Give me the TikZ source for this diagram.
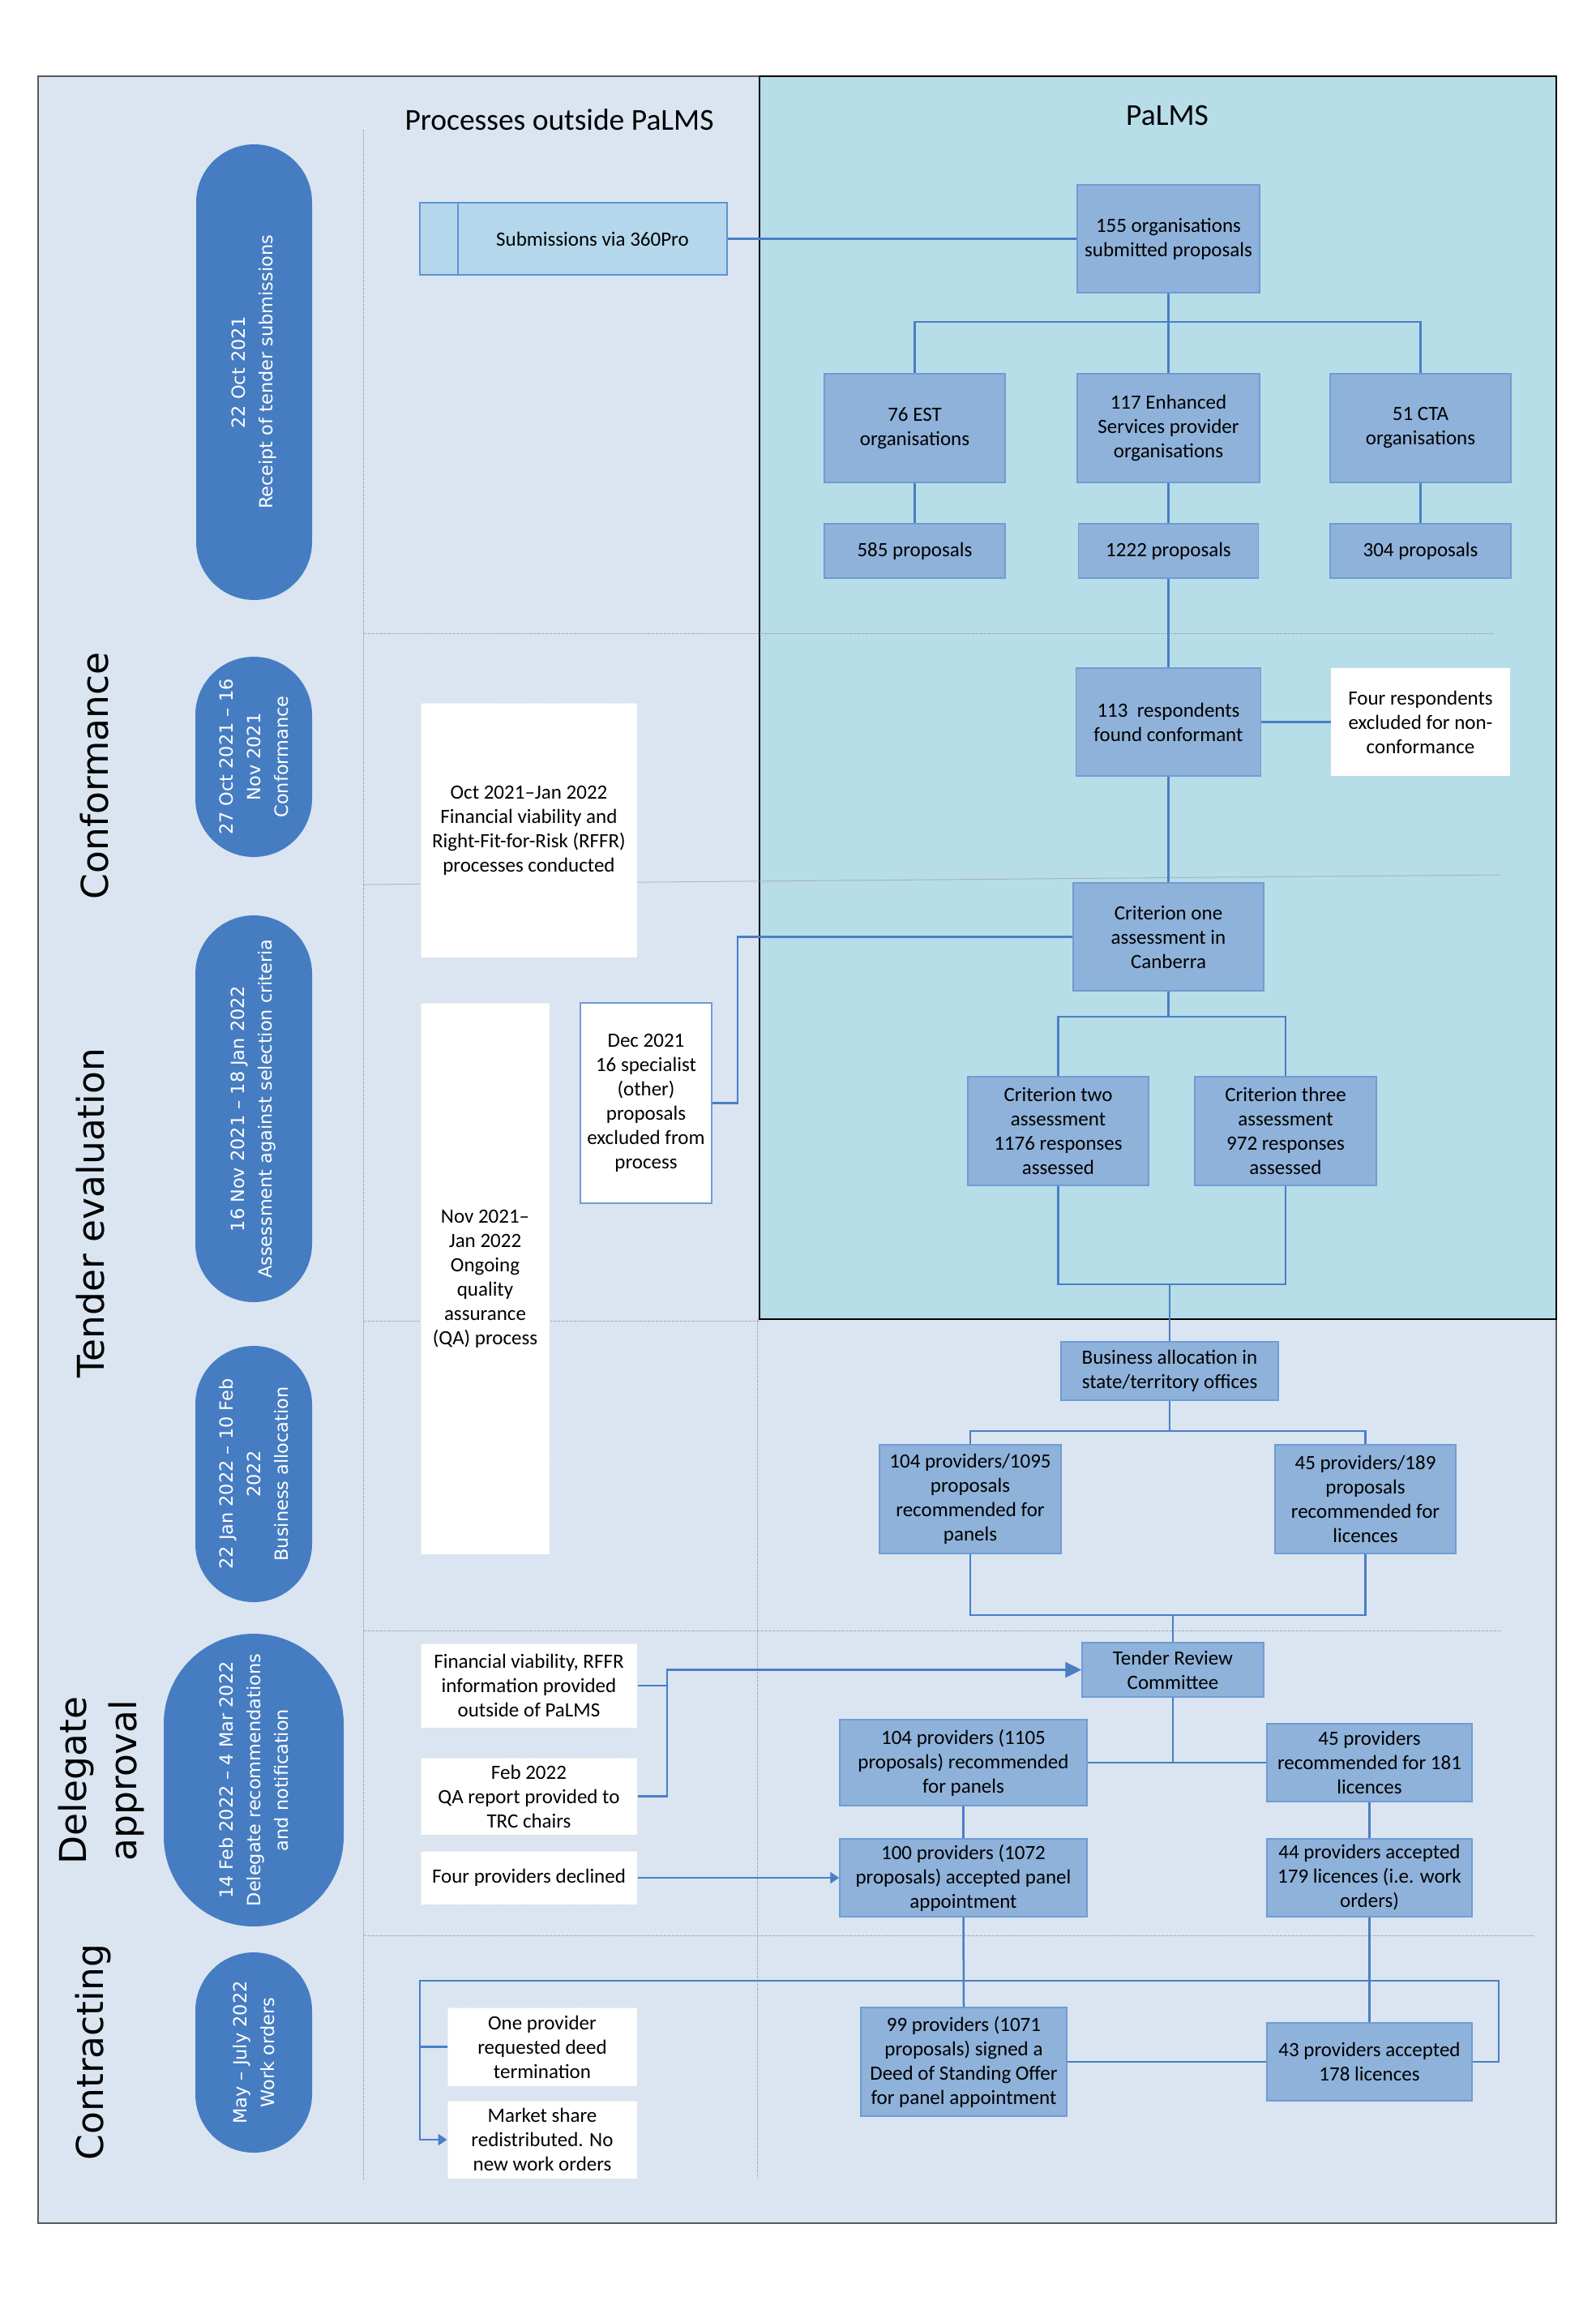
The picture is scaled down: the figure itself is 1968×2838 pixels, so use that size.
\documentclass[tikz,border=0pt]{standalone}
\usepackage{fontspec}
\setmainfont{Carlito}
\newfontfamily\dejavu{DejaVu Sans}
\usetikzlibrary{arrows.meta}
\definecolor{bgout}{HTML}{DAE5F1}
\definecolor{palmsbg}{HTML}{B7DDE8}
\definecolor{boxfill}{HTML}{8EB2DA}
\definecolor{boxdraw}{HTML}{6F9CD3}
\definecolor{linec}{HTML}{4A7EC5}
\definecolor{pillc}{HTML}{467DC2}
\definecolor{subfill}{HTML}{B4D7EB}
\definecolor{subdraw}{HTML}{5E93D3}
\newcommand\boxfnt{\fontsize{25}{30}\selectfont}
\newcommand\pillfnt{\dejavu\fontsize{22.4}{34}\selectfont}
\newcommand\lanefnt{\dejavu\fontsize{45.5}{60}\selectfont}
\newcommand\titlefnt{\fontsize{37.5}{44}\selectfont}
\begin{document}
\begin{tikzpicture}[x=1pt,y=-1pt,
  boxst/.style={draw=boxdraw, fill=boxfill, line width=1.5pt, inner sep=0pt, align=center, font=\boxfnt, text=black},
  whitebox/.style={draw=gray!25, densely dotted, fill=white, line width=1pt, inner sep=0pt, align=center, font=\boxfnt, text=black},
  bluewhite/.style={draw=boxdraw, fill=white, line width=1.2pt, inner sep=0pt, align=center, font=\boxfnt, text=black},
  subst/.style={draw=subdraw, fill=subfill, line width=1.5pt, inner sep=0pt, align=center, font=\boxfnt, text=black},
  pill/.style={fill=pillc, inner sep=0pt, align=center, font=\pillfnt, text=white, rotate=90},
  lane/.style={inner sep=0pt, align=center, font=\lanefnt, text=black, rotate=90},
  conn/.style={draw=linec, line width=2.5pt},
  gridl/.style={draw=gray!75, line width=1pt, dash pattern=on 1.5pt off 1pt},
  bigtip/.style={-{Triangle[length=20pt,width=19pt]}},
  smalltip/.style={-{Triangle[length=11pt,width=14pt]}}
]
\useasboundingbox (0,0) rectangle (1968,2838);
\fill[white] (0,0) rectangle (1968,2838);
% frames
\draw[fill=bgout, draw=gray!70!black, line width=1.5pt] (47,94) rectangle (1920,2742);
\draw[fill=palmsbg, draw=black, line width=2.5pt] (937,94) rectangle (1920,1627);
% grid lines
\draw[gridl] (448,160) -- (448,2688);
\draw[gridl] (934,1627) -- (934,2686);
\draw[gridl] (449,781) -- (1843,781);
\draw[gridl] (449,1091) -- (1851,1079);
\draw[gridl] (449,1629) -- (937,1629);
\draw[gridl] (449,2011) -- (1851,2011);
\draw[gridl] (449,2387) -- (1894,2387);
% titles
\node[font=\titlefnt, inner sep=0pt] (tout) at (690,148) {Processes outside PaLMS};
\node[font=\titlefnt, inner sep=0pt] (tin) at (1440,142) {PaLMS};
% lane labels
\node[lane] (lconf) at (117,957) {Conformance};
\node[lane] (lten) at (112,1496) {Tender evaluation};
\node[lane, font=\dejavu\fontsize{45.5}{62}\selectfont] (ldel) at (125,2196) {Delegate\\approval};
\node[lane] (lcon) at (115,2531) {Contracting};
% pills
\node[pill, minimum width=562, minimum height=143, rounded corners=71.5pt] (p1) at (313.5,459) {22 Oct 2021\\Receipt of tender submissions};
\node[pill, minimum width=247, minimum height=144, rounded corners=72pt] (p2) at (313,933.5) {27 Oct 2021 – 16\\Nov 2021\\Conformance};
\node[pill, minimum width=477, minimum height=144, rounded corners=72pt] (p3) at (313,1367.5) {16 Nov 2021 – 18 Jan 2022\\Assessment against selection criteria};
\node[pill, minimum width=316, minimum height=144, rounded corners=72pt] (p4) at (313,1818) {22 Jan 2022 – 10 Feb\\2022\\Business allocation};
\node[pill, minimum width=361, minimum height=222, rounded corners=111pt] (p5) at (313,2195.5) {14 Feb 2022 – 4 Mar 2022\\Delegate recommendations\\and notification};
\node[pill, minimum width=247, minimum height=144, rounded corners=72pt] (p6) at (313,2531.5) {May – July 2022\\Work orders};
% left column boxes
\node[subst, minimum width=47, minimum height=89] (subtab) at (541.5,294.5) {};
\node[subst, minimum width=332, minimum height=89] (sub) at (731,294.5) {Submissions via 360Pro};
\node[whitebox, minimum width=267, minimum height=314] (w1) at (652.5,1024) {Oct 2021–Jan 2022\\Financial viability and\\Right-Fit-for-Risk (RFFR)\\processes conducted};
\node[whitebox, minimum width=159, minimum height=680] (w2) at (598.5,1577) {Nov 2021–\\Jan 2022\\Ongoing\\quality\\assurance\\(QA) process};
\node[bluewhite, minimum width=162, minimum height=247] (w3) at (797,1360.5) {Dec 2021\\16 specialist\\(other)\\proposals\\excluded from\\process};
\node[whitebox, minimum width=267, minimum height=104] (w4) at (652.5,2079) {Financial viability, RFFR\\information provided\\outside of PaLMS};
\node[whitebox, minimum width=267, minimum height=95] (w5) at (652.5,2215.5) {Feb 2022\\QA report provided to\\TRC chairs};
\node[whitebox, minimum width=267, minimum height=66] (w6) at (652.5,2316) {Four providers declined};
\node[whitebox, minimum width=234, minimum height=97] (w7) at (669,2524.5) {One provider\\requested deed\\termination};
\node[whitebox, minimum width=234, minimum height=96] (w8) at (669,2639) {Market share\\redistributed. No\\new work orders};
% right column boxes
\node[boxst, minimum width=225, minimum height=133] (o155) at (1441.5,294.5) {155 organisations\\submitted proposals};
\node[boxst, minimum width=223, minimum height=134] (est) at (1128.5,528) {76 EST\\organisations};
\node[boxst, minimum width=225, minimum height=134] (enh) at (1441.5,528) {117 Enhanced\\Services provider\\organisations};
\node[boxst, minimum width=223, minimum height=134] (cta) at (1752.5,528) {51 CTA\\organisations};
\node[boxst, minimum width=223, minimum height=67] (p585) at (1128.5,679.5) {585 proposals};
\node[boxst, minimum width=222, minimum height=67] (p1222) at (1441.5,679.5) {1222 proposals};
\node[boxst, minimum width=223, minimum height=67] (p304) at (1752.5,679.5) {304 proposals};
\node[boxst, minimum width=228, minimum height=133] (r113) at (1441.5,890.5) {113~ respondents\\found conformant};
\node[whitebox, draw=none, minimum width=221, minimum height=133] (four) at (1752.5,890.5) {Four respondents\\excluded for non-\\conformance};
\node[boxst, minimum width=235, minimum height=133] (c1) at (1441.5,1155.5) {Criterion one\\assessment in\\Canberra};
\node[boxst, minimum width=223, minimum height=134] (c2) at (1305.5,1395) {Criterion two\\assessment\\1176 responses\\assessed};
\node[boxst, minimum width=224, minimum height=134] (c3) at (1586,1395) {Criterion three\\assessment\\972 responses\\assessed};
\node[boxst, minimum width=268, minimum height=72] (ba) at (1443,1691) {Business allocation in\\state/territory offices};
\node[boxst, minimum width=224, minimum height=134] (q104) at (1197,1849) {104 providers/1095\\proposals\\recommended for\\panels};
\node[boxst, minimum width=223, minimum height=134] (q45) at (1684.5,1849) {45 providers/189\\proposals\\recommended for\\licences};
\node[boxst, minimum width=224, minimum height=67] (trc) at (1447,2059.5) {Tender Review\\Committee};
\node[boxst, minimum width=305, minimum height=106] (r104) at (1188.5,2174) {104 providers (1105\\proposals) recommended\\for panels};
\node[boxst, minimum width=253, minimum height=96] (r45) at (1689.5,2174) {45 providers\\recommended for 181\\licences};
\node[boxst, minimum width=305, minimum height=96] (a100) at (1188.5,2316) {100 providers (1072\\proposals) accepted panel\\appointment};
\node[boxst, minimum width=253, minimum height=96] (a44) at (1689.5,2316) {44 providers accepted\\179 licences (i.e. work\\orders)};
\node[boxst, minimum width=254, minimum height=134] (s99) at (1189,2543) {99 providers (1071\\proposals) signed a\\Deed of Standing Offer\\for panel appointment};
\node[boxst, minimum width=253, minimum height=96] (a43) at (1689.5,2543) {43 providers accepted\\178 licences};
% junction coordinates
\coordinate (j1) at (1441.5,397);
\coordinate (j2) at (1441.5,1254);
\coordinate (j3) at (1443,1584);
\coordinate (j4) at (1443,1765);
\coordinate (j5) at (1447,1992);
\coordinate (j6) at (1447,2174);
\coordinate (j7) at (823,2059.5);
\coordinate (j8) at (910,1360.5);
\coordinate (k1) at (1849,2543);
\coordinate (k2) at (1849,2443);
\coordinate (k3) at (518,2443);
\coordinate (k4) at (518,2639);
% connectors
\draw[conn] (sub.east) -- (o155.west);
\draw[conn] (o155.south) -- (enh.north);
\draw[conn] (est.north) |- (j1) -| (cta.north);
\draw[conn] (est.south) -- (p585.north);
\draw[conn] (enh.south) -- (p1222.north);
\draw[conn] (cta.south) -- (p304.north);
\draw[conn] (p1222.south) -- (r113.north);
\draw[conn] (r113.east) -- (four.west);
\draw[conn] (r113.south) -- (c1.north);
\draw[conn] (c1.south) -- (j2);
\draw[conn] (c2.north) |- (j2) -| (c3.north);
\draw[conn] (c2.south) |- (j3) -| (c3.south);
\draw[conn] (j3) -- (ba.north);
\draw[conn] (w3.east) -- (j8) |- (c1.west);
\draw[conn] (ba.south) -- (j4);
\draw[conn] (q104.north) |- (j4) -| (q45.north);
\draw[conn] (q104.south) |- (j5) -| (q45.south);
\draw[conn] (j5) -- (trc.north);
\draw[conn] (trc.south) -- (j6);
\draw[conn] (r104.east) -- (r45.west);
\draw[conn] (r104.south) -- (a100.north);
\draw[conn] (r45.south) -- (a44.north);
\draw[conn] (a100.south) -- (s99.north);
\draw[conn] (a44.south) -- (a43.north);
\draw[conn] (s99.east) -- (a43.west);
\draw[conn] (w4.east) -- (w4.east -| j7);
\draw[conn, bigtip] (w5.east) -| (j7) -- (trc.west);
\draw[conn, smalltip] (w6.east) -- (a100.west);
\draw[conn] (w7.west) -- (w7.west -| k3);
\draw[conn, smalltip] (a43.east) -- (k1) -- (k2) -- (k3) -- (k4) -- (w8.west);
\end{tikzpicture}
\end{document}
